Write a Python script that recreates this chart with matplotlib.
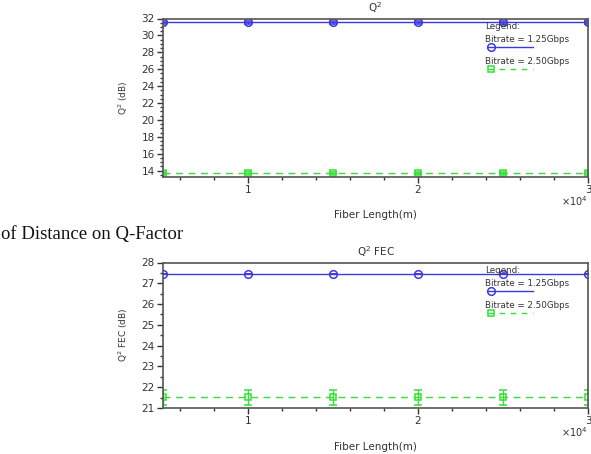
import matplotlib
matplotlib.use("Agg")
import matplotlib.pyplot as plt
from matplotlib.ticker import MultipleLocator, FuncFormatter
from matplotlib.lines import Line2D

plt.rcParams['font.family'] = ['DejaVu Sans']

fiber_length = [5000, 10000, 15000, 20000, 25000, 30000]
q2_125 = [31.55, 31.55, 31.55, 31.55, 31.55, 31.55]
q2_250 = [13.72, 13.72, 13.72, 13.72, 13.72, 13.72]
q2_err_125 = [0.15] * 6
q2_err_250 = [0.15] * 6
q2fec_125 = [27.47, 27.47, 27.47, 27.47, 27.47, 27.47]
q2fec_250 = [21.52, 21.52, 21.52, 21.52, 21.52, 21.52]
q2fec_err_125 = [0.0] * 6
q2fec_err_250 = [0.36] * 6
labels = ["Bitrate = 1.25Gbps", "Bitrate = 2.50Gbps"]

blue = '#3a3ae0'
green = '#33e033'
tc = '#333333'
W, H = 591, 454
fig = plt.figure(figsize=(W / 100, H / 100), dpi=100)


def make_axes(top_px, bot_px, y125, y250, e125, e250, ylim, ymaj, ymin, title, ylabel):
    h_px = bot_px - top_px
    ax = fig.add_axes([163 / W, 1 - bot_px / H, 425 / W, h_px / H])
    ax.errorbar(fiber_length, y125, yerr=e125, color=blue, marker='o', ms=5.5,
                mfc='none', mec=blue, mew=1.1, lw=1.0, capsize=3, elinewidth=1.0)
    ax.errorbar(fiber_length, y250, yerr=e250, color=green, marker='s', ms=5,
                mfc='none', mec=green, mew=1.1, lw=1.0, ls=(0, (5, 4)), capsize=3, elinewidth=1.0)
    ax.set_xlim(5000, 30000)
    ax.set_ylim(*ylim)
    ax.xaxis.set_major_locator(MultipleLocator(10000))
    ax.xaxis.set_minor_locator(MultipleLocator(2000))
    ax.yaxis.set_major_locator(MultipleLocator(ymaj))
    ax.yaxis.set_minor_locator(MultipleLocator(ymin))
    ax.xaxis.set_major_formatter(FuncFormatter(lambda v, p: '%d' % round(v / 10000)))
    ax.tick_params(axis='both', which='major', direction='out', length=4,
                   labelsize=7.5, colors=tc, labelcolor=tc, width=1.0, pad=2)
    ax.tick_params(axis='both', which='minor', direction='out', length=2,
                   colors=tc, width=1.0)
    for s in ax.spines.values():
        s.set_color('#555555')
        s.set_linewidth(1.2)
    ax.set_title(title, fontsize=7.5, color=tc, pad=5)
    ax.set_ylabel(ylabel, fontsize=6.5, color=tc, labelpad=8)
    ax.set_xlabel('Fiber Length(m)', fontsize=7.5, color=tc, labelpad=11)
    ax.text(1.0, -0.11 * 158 / h_px, r'$\times$10$^4$', transform=ax.transAxes, ha='right',
            va='top', fontsize=7, color=tc)
    # custom legend (offsets in pixels from axes top)
    def fy(off):
        return 1 - off / h_px
    ax.text(0.757, fy(8), 'Legend:', transform=ax.transAxes, fontsize=6.3, color=tc, va='center')
    ax.text(0.757, fy(21.5), labels[0], transform=ax.transAxes, fontsize=6.3, color=tc, va='center')
    ax.text(0.757, fy(42.5), labels[1], transform=ax.transAxes, fontsize=6.3, color=tc, va='center')
    ax.add_line(Line2D([0.765, 0.87], [fy(28.5)] * 2, transform=ax.transAxes, color=blue, lw=1.0))
    ax.add_line(Line2D([0.772], [fy(28.5)], transform=ax.transAxes, marker='o', ms=5.5,
                       mfc='none', mec=blue, mew=1.1))
    ax.add_line(Line2D([0.765, 0.87], [fy(50.5)] * 2, transform=ax.transAxes, color=green,
                       lw=1.0, ls=(0, (4, 4))))
    ax.add_line(Line2D([0.772], [fy(50.5)], transform=ax.transAxes, marker='s', ms=5,
                       mfc='none', mec=green, mew=1.1))
    return ax


make_axes(18.5, 176.5, q2_125, q2_250, q2_err_125, q2_err_250,
          (13.3, 32), 2, 0.5, r'Q$^2$', r'Q$^2$ (dB)')
make_axes(262.5, 408, q2fec_125, q2fec_250, q2fec_err_125, q2fec_err_250,
          (21, 28), 1, 0.5, r'Q$^2$ FEC', r'Q$^2$ FEC (dB)')

fig.text(1 / W, 1 - 235 / H, 'of Distance on Q-Factor', fontsize=13.5,
         family=['Liberation Serif', 'DejaVu Serif'], color='#111111', va='center', ha='left')

fig.savefig('out.png', dpi=100)
